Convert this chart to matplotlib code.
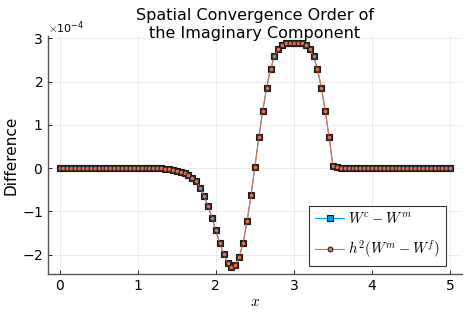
import numpy as np
import matplotlib
matplotlib.use("Agg")
import matplotlib.pyplot as plt

plt.rcParams['font.family'] = 'DejaVu Sans'
plt.rcParams['mathtext.fontset'] = 'cm'

# grid in x (uniform, step 0.05)
x = np.arange(0, 5.0001, 0.05)

# values in units of 1e-4
coarse_diff = [0.0] * 26 + [
    -0.005, -0.01,
    -0.02, -0.04, -0.06, -0.09, -0.12, -0.16, -0.22, -0.31, -0.46, -0.65,
    -0.88, -1.15, -1.44, -1.73, -1.99, -2.19, -2.29, -2.24, -2.05, -1.72,
    -1.22, -0.63, 0.03, 0.71, 1.32, 1.86, 2.29, 2.58, 2.75, 2.84,
    2.88, 2.89, 2.89, 2.89, 2.88, 2.84, 2.76, 2.58, 2.29, 1.86,
    1.32, 0.71, 0.04, 0.02,
] + [0.0] * 29
fine_diff = list(coarse_diff)

y1 = np.array(coarse_diff) * 1e-4
y2 = np.array(fine_diff) * 1e-4

blue = '#009AFA'
orange = '#E36F47'

fig = plt.figure(figsize=(4.69, 3.13), dpi=100)
ax = fig.add_axes([0.102, 0.125, 0.883, 0.759])

ax.plot(x, y1, '-', color=blue, lw=0.8, marker='s', ms=4.4,
        mfc=blue, mec='#1a1a1a', mew=0.8, label=r'$W^c - W^m$')
ax.plot(x, y2, '-', color=orange, lw=0.8, marker='o', ms=3.5,
        mfc=orange, mec='#1a1a1a', mew=0.7, label=r'$h^2(W^m - W^f)$')

ax.set_xlim(-0.15, 5.15)
ax.set_ylim(-2.445e-4, 3.045e-4)
ax.set_xticks([0, 1, 2, 3, 4, 5])
ax.set_yticks(np.array([-2, -1, 0, 1, 2, 3]) * 1e-4)
ax.ticklabel_format(axis='y', style='sci', scilimits=(0, 0), useMathText=True)
ax.yaxis.get_offset_text().set_fontsize(8)

ax.grid(True, color='black', alpha=0.1, lw=0.5)
for s in ['top', 'right']:
    ax.spines[s].set_visible(False)
for s in ['left', 'bottom']:
    ax.spines[s].set_color('#555555')
    ax.spines[s].set_linewidth(1.0)
ax.tick_params(direction='in', length=3, width=0.6, labelsize=10, colors='black')

ax.set_title('Spatial Convergence Order of\nthe Imaginary Component',
             fontsize=11.5, linespacing=1.2, y=1.0, pad=-1)
ax.set_ylabel('Difference', fontsize=11, labelpad=2)
ax.set_xlabel(r'$x$', fontsize=11, labelpad=1)

leg = ax.legend(loc='lower right', bbox_to_anchor=(0.961, 0.034),
                fontsize=10.5, frameon=True, fancybox=False,
                edgecolor='#333333', framealpha=1, handlelength=2.0,
                handletextpad=0.25, borderaxespad=0, borderpad=0.4,
                labelspacing=0.8)
leg.get_frame().set_linewidth(0.8)

fig.savefig('out.png', dpi=100)
